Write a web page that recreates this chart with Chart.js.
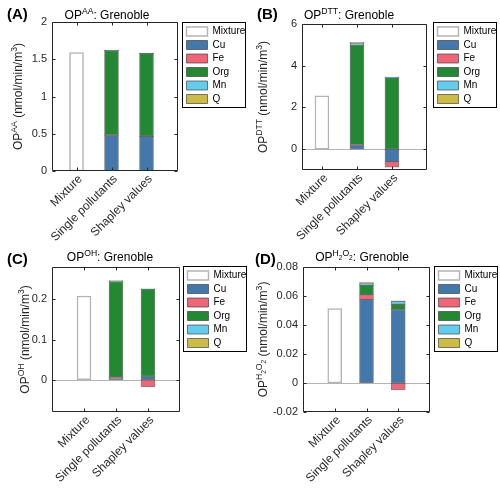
<!DOCTYPE html>
<html>
<head>
<meta charset="utf-8">
<script src="https://cdn.jsdelivr.net/npm/chart.js@4.4.0/dist/chart.umd.min.js"></script>
<style>
  html, body { margin: 0; padding: 0; background: #fff; }
  #wrap { position: relative; width: 500px; height: 488px; }
  canvas { position: absolute; }
</style>
</head>
<body>
<div id="wrap">
  <canvas id="panelA" width="250" height="244" style="left:0;top:0"></canvas>
  <canvas id="panelB" width="250" height="244" style="left:250px;top:0"></canvas>
  <canvas id="panelC" width="250" height="244" style="left:0;top:244px"></canvas>
  <canvas id="panelD" width="250" height="244" style="left:250px;top:244px"></canvas>
</div>
<script>
// categories and sources
const categories = ['Mixture', 'Single pollutants', 'Shapley values'];
const sources = ['Cu', 'Fe', 'Org', 'Mn', 'Q'];
const sourceColors = ['#4477aa', '#ee6677', '#228833', '#66ccee', '#ccbb44'];

// OP AA  (single / shapley in order Cu, Fe, Org, Mn, Q)
const aaMixture = 1.59;
const aaSingle = [0.48, 0.005, 1.13, 0.005, 0.002];
const aaShapley = [0.465, 0.003, 1.11, 0.003, 0.002];
const aaTicks = [0, 0.5, 1, 1.5, 2];

// OP DTT
const dttMixture = 2.56;
const dttSingle = [0.2, 0.01, 4.78, 0.09, 0.04];
const dttShapley = [-0.6, -0.27, 3.43, 0.02, 0.0];
const dttTicks = [0, 2, 4, 6];

// OP OH
const ohMixture = 0.208;
const ohSingle = [0.005, 0.001, 0.238, 0.001, 0.001];
const ohShapley = [0.009, -0.018, 0.216, 0.001, 0.0];
const ohTicks = [0, 0.1, 0.2];

// OP H2O2
const hpMixture = 0.0513;
const hpSingle = [0.0575, 0.0035, 0.0063, 0.0018, 0.0002];
const hpShapley = [0.0505, -0.0048, 0.0037, 0.0022, 0.0002];
const hpTicks = [-0.02, 0, 0.02, 0.04, 0.06, 0.08];

const FONT = "'Liberation Sans', Arial, Helvetica, sans-serif";
const TXT = '#262626';

// rich text: level 0 normal, 1 superscript, 2 subscript inside superscript
function partStyle(level, size) {
    if (level === 1) return { size: size * 0.72, dy: -size * 0.38 };
    if (level === 2) return { size: size * 0.55, dy: -size * 0.12 };
    return { size: size, dy: 0 };
}

function richWidth(ctx, parts, size) {
    let w = 0;
    parts.forEach(p => {
        const st = partStyle(p[1], size);
        ctx.font = st.size + 'px ' + FONT;
        w += ctx.measureText(p[0]).width;
    });
    return w;
}

function drawRich(ctx, parts, cx, y, size, color) {
    let x = cx - richWidth(ctx, parts, size) / 2;
    ctx.fillStyle = color;
    ctx.textAlign = 'left';
    ctx.textBaseline = 'alphabetic';
    parts.forEach(p => {
        const st = partStyle(p[1], size);
        ctx.font = st.size + 'px ' + FONT;
        ctx.fillText(p[0], x, y + st.dy);
        x += ctx.measureText(p[0]).width;
    });
}

function buildDatasets(mixture, single, shapley) {
    const sets = [{
        label: 'Mixture',
        data: [{ x: 1, y: mixture }],
        backgroundColor: '#ffffff',
        borderColor: '#b4b4b4',
        borderWidth: 1.5
    }];
    sources.forEach((name, i) => {
        sets.push({
            label: name,
            data: [{ x: 2, y: single[i] }, { x: 3, y: shapley[i] }],
            backgroundColor: sourceColors[i],
            borderColor: 'rgba(60,60,60,0.65)',
            borderWidth: 1
        });
    });
    return sets;
}

const panelDecor = {
    id: 'panelDecor',
    afterLayout(chart) {
        const o = chart.options.plugins.panelDecor;
        const lg = chart.legend;
        if (lg) {
            lg.left = o.legendBox[0] + 1;
            lg.top = o.legendBox[1] + 1;
            lg.right = lg.left + lg.width;
            lg.bottom = lg.top + lg.height;
        }
    },
    beforeDatasetsDraw(chart) {
        const { ctx, chartArea: a, scales } = chart;
        const y0 = scales.y.getPixelForValue(0);
        if (y0 < a.bottom - 1) {
            ctx.save();
            ctx.strokeStyle = '#b5b5b5';
            ctx.lineWidth = 1;
            ctx.beginPath();
            ctx.moveTo(a.left, Math.round(y0) + 0.5);
            ctx.lineTo(a.right, Math.round(y0) + 0.5);
            ctx.stroke();
            ctx.restore();
        }
    },
    afterDraw(chart) {
        const o = chart.options.plugins.panelDecor;
        const { ctx, chartArea: a, scales } = chart;
        const L = Math.round(a.left) + 0.5, R = Math.round(a.right) - 0.5;
        const T = Math.round(a.top) + 0.5, B = Math.round(a.bottom) - 0.5;
        ctx.save();
        ctx.strokeStyle = TXT;
        ctx.lineWidth = 1;
        ctx.beginPath();
        ctx.rect(L, T, R - L, B - T);
        scales.y.ticks.forEach(t => {
            const py = Math.round(scales.y.getPixelForValue(t.value)) + 0.5;
            ctx.moveTo(L, py); ctx.lineTo(L + 3, py);
            ctx.moveTo(R, py); ctx.lineTo(R - 3, py);
        });
        scales.x.ticks.forEach(t => {
            const px = Math.round(scales.x.getPixelForValue(t.value)) + 0.5;
            ctx.moveTo(px, B); ctx.lineTo(px, B - 3);
            ctx.moveTo(px, T); ctx.lineTo(px, T + 3);
        });
        ctx.stroke();

        // legend frame
        const lb = o.legendBox;
        ctx.strokeStyle = '#000';
        ctx.strokeRect(lb[0] + 0.5, lb[1] + 0.5, lb[2], lb[3]);

        // panel letter
        ctx.fillStyle = '#000';
        ctx.font = 'bold 15px ' + FONT;
        ctx.textAlign = 'left';
        ctx.textBaseline = 'middle';
        ctx.fillText(o.letter, o.letterPos[0], o.letterPos[1]);

        // title
        drawRich(ctx, o.title, o.titlePos[0], o.titlePos[1], 12, '#000');

        // y label, rotated
        ctx.translate(o.ylabelX, (a.top + a.bottom) / 2);
        ctx.rotate(-Math.PI / 2);
        drawRich(ctx, o.ylabel, 0, 4, 12, TXT);
        ctx.restore();
    }
};

function makePanel(id, p) {
    new Chart(document.getElementById(id), {
        type: 'bar',
        data: { datasets: buildDatasets(p.mixture, p.single, p.shapley) },
        options: {
            responsive: false,
            animation: false,
            devicePixelRatio: 1,
            layout: { padding: { top: p.area[1], right: 250 - p.area[2], bottom: 0, left: 0 } },
            datasets: { bar: { barThickness: 14, borderSkipped: false, grouped: false } },
            scales: {
                x: {
                    type: 'linear',
                    stacked: true,
                    min: p.xRange[0],
                    max: p.xRange[1],
                    offset: false,
                    grid: { display: false, drawTicks: false, tickLength: 0 },
                    border: { display: false },
                    afterBuildTicks: s => { s.ticks = [1, 2, 3].map(v => ({ value: v })); },
                    afterFit: s => { s.height = 244 - p.area[3]; },
                    ticks: {
                        autoSkip: false,
                        minRotation: 45,
                        maxRotation: 45,
                        padding: 1,
                        labelOffset: 4,
                        color: TXT,
                        font: { family: FONT, size: 12 },
                        callback: v => categories[v - 1]
                    }
                },
                y: {
                    stacked: true,
                    min: p.yRange[0],
                    max: p.yRange[1],
                    grid: { display: false, drawTicks: false, tickLength: 0 },
                    border: { display: false },
                    afterBuildTicks: s => { s.ticks = p.yTicks.map(v => ({ value: v })); },
                    afterFit: s => { s.width = p.area[0]; },
                    ticks: {
                        padding: 5,
                        color: TXT,
                        font: { family: FONT, size: 11 },
                        callback: v => String(Number(v.toFixed(4)))
                    }
                }
            },
            plugins: {
                tooltip: { enabled: false },
                legend: {
                    position: 'chartArea',
                    align: 'start',
                    labels: {
                        boxWidth: 21,
                        boxHeight: 9,
                        padding: 3.5,
                        color: '#000',
                        font: { family: FONT, size: 10 }
                    }
                },
                panelDecor: {
                    legendBox: p.legendBox,
                    letter: p.letter,
                    letterPos: p.letterPos,
                    title: p.title,
                    titlePos: p.titlePos,
                    ylabel: p.ylabel,
                    ylabelX: p.ylabelX
                }
            }
        },
        plugins: [panelDecor]
    });
}

const unit = [[' (nmol/min/m', 0], ['3', 1], [')', 0]];

makePanel('panelA', {
    mixture: aaMixture, single: aaSingle, shapley: aaShapley,
    yTicks: aaTicks, yRange: [0, 2], xRange: [0.3, 3.9],
    area: [52, 22, 178, 171],
    legendBox: [182, 22, 63, 85],
    letter: '(A)', letterPos: [7, 15],
    title: [['OP', 0], ['AA', 1], [': Grenoble', 0]], titlePos: [107, 19],
    ylabel: [['OP', 0], ['AA', 1]].concat(unit), ylabelX: 18
});

makePanel('panelB', {
    mixture: dttMixture, single: dttSingle, shapley: dttShapley,
    yTicks: dttTicks, yRange: [-1, 6], xRange: [0.43, 4],
    area: [52, 24, 177, 170],
    legendBox: [183, 22, 63, 85],
    letter: '(B)', letterPos: [7, 15],
    title: [['OP', 0], ['DTT', 1], [': Grenoble', 0]], titlePos: [99, 19],
    ylabel: [['OP', 0], ['DTT', 1]].concat(unit), ylabelX: 13
});

makePanel('panelC', {
    mixture: ohMixture, single: ohSingle, shapley: ohShapley,
    yTicks: ohTicks, yRange: [-0.08, 0.28], xRange: [0, 4],
    area: [52, 23, 180, 168],
    legendBox: [183, 22, 63, 85],
    letter: '(C)', letterPos: [7, 16],
    title: [['OP', 0], ['OH', 1], [': Grenoble', 0]], titlePos: [110, 17],
    ylabel: [['OP', 0], ['OH', 1]].concat(unit), ylabelX: 25
});

makePanel('panelD', {
    mixture: hpMixture, single: hpSingle, shapley: hpShapley,
    yTicks: hpTicks, yRange: [-0.02, 0.08], xRange: [0, 4],
    area: [53, 23, 180, 168],
    legendBox: [184, 22, 63, 85],
    letter: '(D)', letterPos: [5, 16],
    title: [['OP', 0], ['H', 1], ['2', 2], ['O', 1], ['2', 2], [': Grenoble', 0]], titlePos: [112, 17],
    ylabel: [['OP', 0], ['H', 1], ['2', 2], ['O', 1], ['2', 2]].concat(unit), ylabelX: 13
});
</script>
</body>
</html>
